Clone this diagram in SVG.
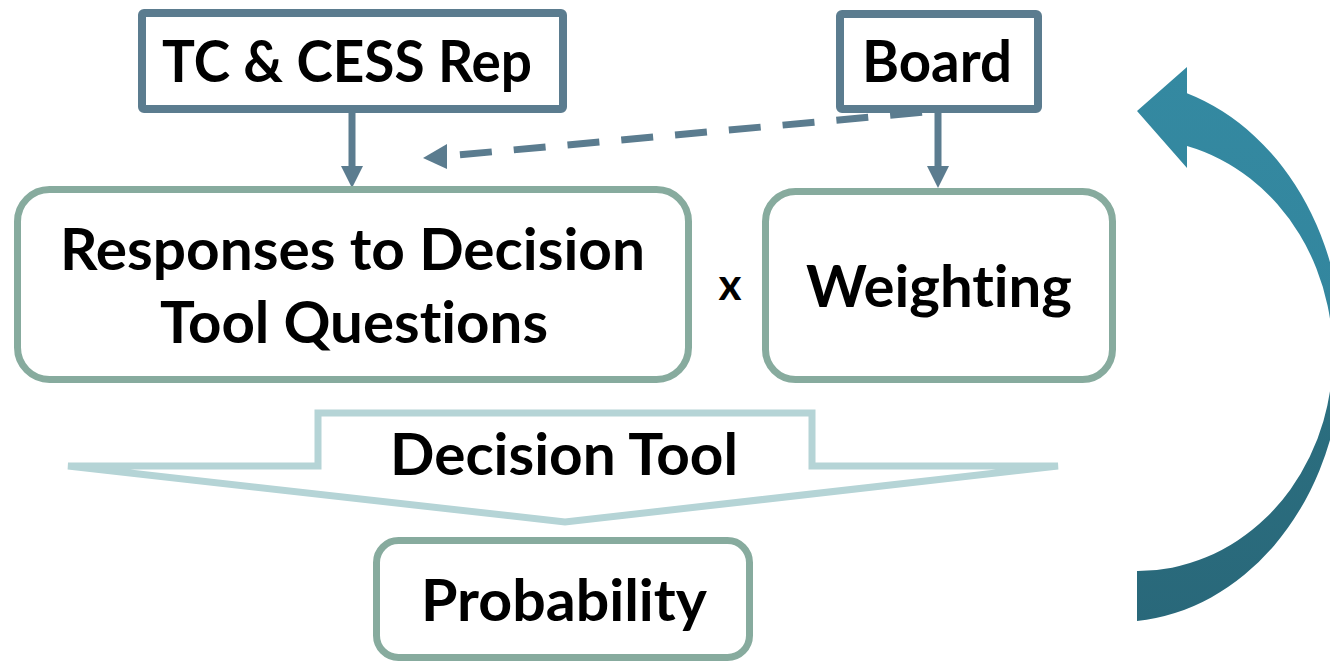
<svg xmlns="http://www.w3.org/2000/svg" width="1330" height="661" viewBox="0 0 1330 661">
<defs>
<style>
.t{font-family:Lato,"Open Sans","Liberation Sans",sans-serif;font-weight:700;font-size:57px;fill:#000;font-variant-ligatures:none;}
.sq{fill:#fff;stroke:#5b7c8f;stroke-width:8;}
.rr{fill:#fff;stroke:#87ab9e;stroke-width:7;}
.con{stroke:#5b7c8f;stroke-width:7;fill:none;}
.head{fill:#5b7c8f;}
</style>
<linearGradient id="g" gradientUnits="userSpaceOnUse" x1="0" y1="60" x2="0" y2="625">
<stop offset="0" stop-color="#3489a1"/>
<stop offset="0.45" stop-color="#33869e"/>
<stop offset="0.62" stop-color="#2b6e7f"/>
<stop offset="1" stop-color="#29687a"/>
</linearGradient>
</defs>
<rect width="1330" height="661" fill="#fff"/>

<g id="cycle-arrow">
<path d="M1137,621 A225,271 0 0 0 1187,93.3 L1187,67 L1137,111 L1187,168 L1187,146 A195,216 0 0 1 1137,571 Z" fill="url(#g)"/>
</g>

<g id="connectors">
<line class="con" x1="352" y1="113" x2="352" y2="168"/>
<polygon class="head" points="341,166 363,166 352,188"/>
<line class="con" x1="938" y1="113" x2="938" y2="168"/>
<polygon class="head" points="927,166 949,166 938,188"/>
<line class="con" x1="447" y1="156" x2="936" y2="111" stroke-dasharray="32 22" stroke-dashoffset="41" stroke-width="8"/>
<polygon class="head" points="423,158 447,144 447,169"/>
</g>

<g id="tc-cess-rep">
<rect class="sq" x="142" y="13" width="421" height="96" rx="2"/>
<text class="t" x="162" y="82" textLength="370" lengthAdjust="spacingAndGlyphs">TC &amp; CESS Rep</text>
</g>

<g id="board">
<rect class="sq" x="840" y="14" width="198" height="95" rx="2"/>
<text class="t" x="862" y="82" textLength="150" lengthAdjust="spacingAndGlyphs">Board</text>
</g>

<g id="responses">
<rect class="rr" x="17.5" y="189.5" width="671" height="190" rx="32"/>
<text class="t" x="60" y="270" textLength="585" lengthAdjust="spacingAndGlyphs">Responses to Decision</text>
<text class="t" x="160" y="343" textLength="388" lengthAdjust="spacingAndGlyphs">Tool Questions</text>
</g>

<g id="times">
<text class="t" x="730" y="300" text-anchor="middle" style="font-size:44px">x</text>
</g>

<g id="weighting">
<rect class="rr" x="765.5" y="191.5" width="347" height="188" rx="30"/>
<text class="t" x="806" y="307" textLength="266" lengthAdjust="spacingAndGlyphs">Weighting</text>
</g>

<g id="decision-tool">
<polygon points="318,413 812,413 812,466 1058,466 565,522 68,466 318,466" fill="#fff" stroke="#b5d4d6" stroke-width="7" stroke-linejoin="miter"/>
<text class="t" x="390" y="475" textLength="348" lengthAdjust="spacingAndGlyphs">Decision Tool</text>
</g>

<g id="probability">
<rect class="rr" x="376.5" y="540.5" width="373" height="117" rx="22"/>
<text class="t" x="421" y="621" textLength="286" lengthAdjust="spacingAndGlyphs">Probability</text>
</g>
</svg>
